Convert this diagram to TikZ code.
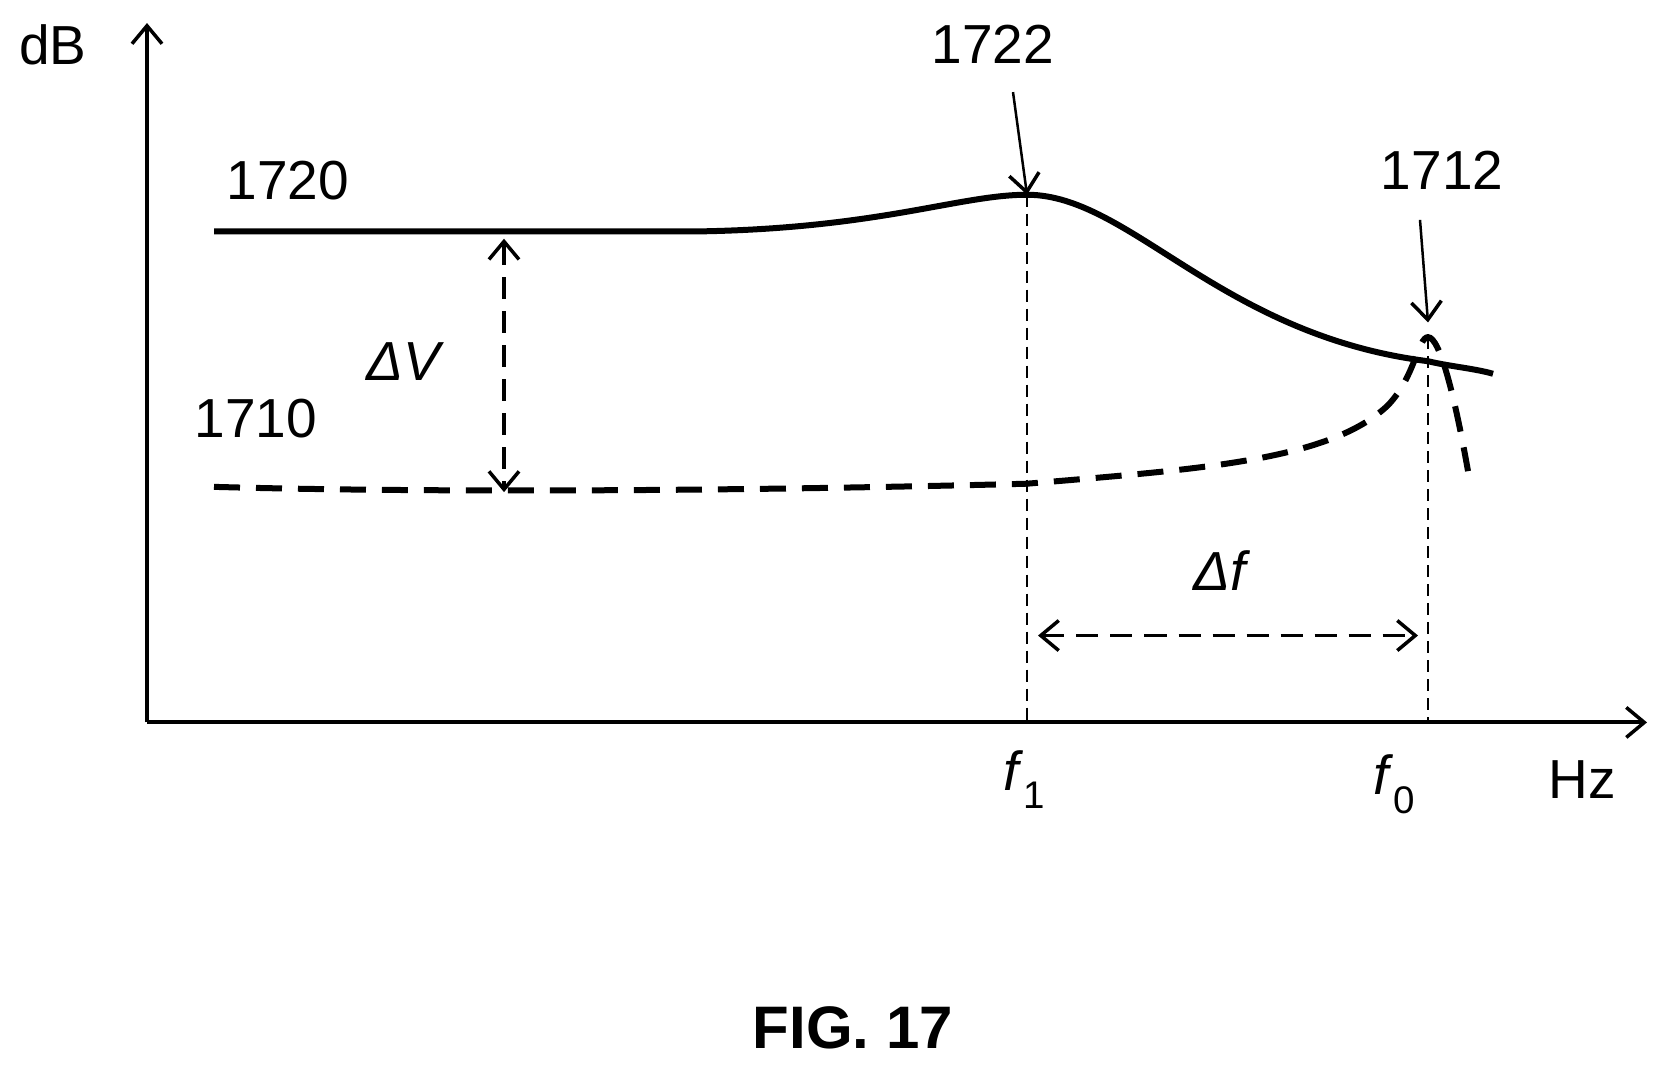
\documentclass[tikz,border=0pt]{standalone}
\usepackage{fontspec}
\setmainfont{Liberation Sans}
\usetikzlibrary{arrows.meta}
\begin{document}
\begin{tikzpicture}[x=1pt,y=-1.047pt,
  >={Straight Barb[length=18pt,width=30pt,line width=3.5pt]},
  lbl/.style={font=\fontsize{55}{60}\selectfont,inner sep=0pt},
  thick curve/.style={line width=6pt},
  dcurve/.style={line width=6pt,dash pattern=on 26pt off 16pt},
  guide/.style={line width=2.2pt,dash pattern=on 12pt off 7pt}]
\useasboundingbox (0,0) rectangle (1667,1022);
% axes
\coordinate (O) at (147,690);
\coordinate (Ytop) at (147,22);
\coordinate (Xend) at (1647,690);
\draw[line width=4pt,->] (O) -- (Ytop);
\draw[line width=4pt,->] (O) -- (Xend);
\node[lbl] (dB) at (53,43) {dB};
\node[lbl] (Hz) at (1582,745) {Hz};
% key points
\coordinate (P1) at (1027,186);
\coordinate (P0) at (1428,322);
\coordinate (C0) at (1428,345);
\coordinate (F1) at (1027,690);
\coordinate (F0) at (1428,690);
% curve 1720
\draw[thick curve] (214,221) -- (700,221) .. controls (880,218) and (960,186) .. (P1)
  .. controls (1130,186) and (1220,320) .. (C0) .. controls (1450,350) and (1475,352) .. (1493,357);
% curve 1710
\draw[dcurve] (214,465) .. controls (400,470) and (700,470) .. (1027,462)
  .. controls (1200,448) and (1330,440) .. (1388,387) .. controls (1415,360) and (1418,322) .. (P0)
  .. controls (1440,322) and (1455,380) .. (1468,450);
% guides
\draw[guide] (P1) -- (F1);
\draw[guide] (P0) -- (F0);
% Delta V
\coordinate (VA) at (504,228);
\coordinate (VB) at (504,470);
\draw[line width=3.5pt,dash pattern=on 22pt off 12pt,<->] (VA) -- (VB);
\node[lbl,font=\fontsize{55}{60}\selectfont\itshape] (dV) at (403,345) {ΔV};
% Delta f
\coordinate (FA) at (1038,607);
\coordinate (FB) at (1418,607);
\draw[line width=3.5pt,dash pattern=on 22pt off 12pt,<->] (FA) -- (FB);
\node[lbl,font=\fontsize{55}{60}\selectfont\itshape] (df) at (1220,545) {Δf};
% labels
\node[lbl] (l1720) at (288,172) {1720};
\node[lbl] (l1710) at (256,400) {1710};
\node[lbl] (l1722) at (993,42) {1722};
\node[lbl] (l1712) at (1442,163) {1712};
\coordinate (A22) at (1013,88);
\coordinate (A12) at (1420,210);
\coordinate (T12) at (1428,308);
\draw[line width=2.5pt,->] (A22) -- (P1);
\draw[line width=2.5pt,->] (A12) -- (T12);
\node[lbl] (f1) at (1024,745) {\textit{f}\textsubscript{1}};
\node[lbl] (f0) at (1394,749) {\textit{f}\textsubscript{0}};
\node[inner sep=0pt,font=\fontsize{60}{66}\selectfont\bfseries] (fig) at (853,982) {FIG. 17};
\end{tikzpicture}
\end{document}
